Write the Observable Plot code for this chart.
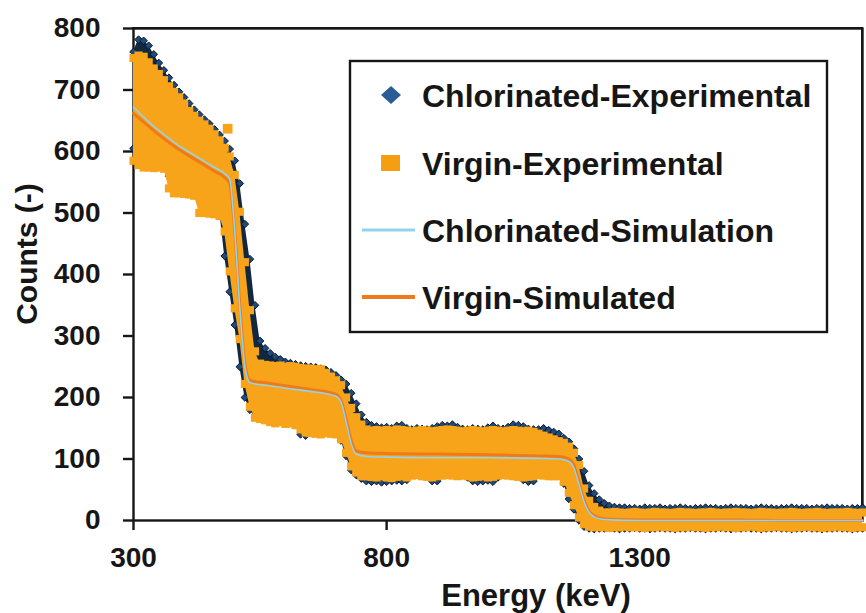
<!DOCTYPE html>
<html><head><meta charset="utf-8">
<script src="https://cdn.jsdelivr.net/npm/d3@7"></script>
<script src="https://cdn.jsdelivr.net/npm/@observablehq/plot@0.6"></script>
<style>
body{margin:0;background:#fff;}
#chart{position:relative;width:866px;height:613px;}
#border{position:absolute;box-sizing:border-box;border-top:2.4px solid #161616;border-right:2.4px solid #161616;pointer-events:none;}
</style></head><body><div id="chart"><div id="border"></div></div>
<script>
// Energy grid (keV) of the experimental spectra
const energy = [
 300,310,320,330,340,350,360,370,380,390,
 400,410,420,430,440,450,460,470,480,490,
 500,510,520,530,540,550,560,570,580,590,
 600,610,620,630,640,650,660,670,680,690,
 700,710,720,730,740,750,760,770,780,790,
 800,810,820,830,840,850,860,870,880,890,
 900,910,920,930,940,950,960,970,980,990,
 1000,1010,1020,1030,1040,1050,1060,1070,1080,1090,
 1100,1110,1120,1130,1140,1150,1160,1170,1180,1190,
 1200,1210,1220,1230,1240,1250,1260,1270,1280,1290,
 1300,1310,1320,1330,1340,1350,1360,1370,1380,1390,
 1400,1410,1420,1430,1440,1450,1460,1470,1480,1490,
 1500,1510,1520,1530,1540,1550,1560,1570,1580,1590,
 1600,1610,1620,1630,1640,1650,1660,1670,1680,1690,
 1700,1710,1720,1730,1740];

// Chlorinated-Experimental: upper / lower edge of the point cloud
const chlHi = [
 762,782,780,772,758,744,732,720,708,697,
 688,678,668,660,652,645,636,627,617,604,
 585,548,482,425,350,292,280,272,266,262,
 258,256,254,252,251,250,249,247,245,241,
 236,229,222,207,190,172,160,155,153,151,
 152,150,154,155,150,148,150,149,148,150,
 153,155,154,156,152,149,148,150,149,148,
 151,154,150,149,152,156,155,153,149,148,
 148,150,147,144,141,134,128,117,100,80,
 57,44,34,28,24,22,21,21,20,20,
 19,21,20,20,21,19,20,20,21,20,
 19,20,20,21,20,20,19,20,21,20,
 20,20,19,20,21,20,20,19,20,20,
 21,20,20,20,19,20,20,21,20,20,
 20,19,20,20,21];
const chlLo = [
 605,598,592,588,586,585,583,560,548,545,
 542,540,538,525,518,514,510,505,430,372,
 318,250,200,180,168,170,170,168,165,166,
 163,162,158,140,138,148,150,150,148,146,
 142,130,105,82,74,68,64,63,64,62,
 63,64,65,64,66,78,80,79,72,64,
 64,77,80,80,79,78,70,64,63,64,
 65,63,70,80,80,79,78,66,63,64,
 80,80,79,78,76,60,35,18,0,-10,
 -13,-14,-13,-13,-12,-13,-14,-13,-13,-12,
 -13,-13,-14,-13,-12,-13,-13,-14,-13,-13,
 -12,-13,-13,-14,-13,-13,-12,-13,-14,-13,
 -13,-12,-13,-13,-14,-13,-13,-12,-13,-13,
 -14,-13,-13,-12,-13,-13,-14,-13,-13,-12,
 -13,-13,-14,-13,-13];

// Virgin-Experimental: upper / lower edge of the point cloud
const virHi = [
 752,756,754,745,735,726,716,706,697,688,
 678,666,658,650,644,637,628,618,606,592,
 562,502,420,342,275,255,253,252,251,252,
 250,251,250,248,247,247,246,246,240,234,
 228,220,200,183,168,156,148,146,147,146,
 147,146,148,147,146,145,146,147,146,145,
 146,147,148,147,146,145,146,147,146,145,
 146,147,146,145,146,147,146,145,146,144,
 141,138,135,132,129,126,120,110,90,52,
 32,22,16,13,13,14,13,12,13,14,
 13,12,13,14,13,13,12,13,14,13,
 13,12,13,13,14,13,12,13,13,14,
 13,13,12,13,14,13,13,12,13,13,
 14,13,12,13,13,14,13,12,13,13,
 13,14,13,12,13];
const virLo = [
 585,578,574,574,573,574,572,540,532,532,
 531,530,528,500,500,499,498,495,470,405,
 345,295,222,185,167,165,163,160,158,160,
 157,158,155,148,143,142,141,140,142,141,
 140,132,110,88,78,72,72,71,70,72,
 70,69,71,72,70,73,74,72,71,70,
 72,73,74,73,72,73,72,70,71,72,
 70,71,73,74,73,72,71,70,71,72,
 74,73,72,72,72,63,45,25,5,-6,
 -10,-11,-11,-11,-12,-11,-11,-10,-11,-11,
 -11,-12,-11,-11,-10,-11,-11,-12,-11,-11,
 -10,-11,-11,-12,-11,-11,-10,-11,-11,-12,
 -11,-11,-10,-11,-12,-11,-11,-10,-11,-11,
 -12,-11,-11,-10,-11,-11,-12,-11,-11,-10,
 -11,-11,-12,-11,-11];
// isolated Virgin-Experimental point
const virOutE = [486];
const virOutC = [637];

// Simulations
const simEnergy = [300,320,340,360,380,400,420,440,460,480,490,500,510,520,530,540,560,600,650,700,710,720,730,740,760,800,900,1000,1100,1140,1160,1170,1180,1190,1200,1210,1220,1240,1300,1400,1500,1600,1740];
const virginSim = [662,648,634,621,609,598,588,578,568,558,548,470,350,255,228,226,224,219,213,205,195,165,130,113,110,109,108,107,105,104,100,90,62,33,15,8,4,2,1,1,1,0,0];
const chlorSim  = [672,656,641,628,615,604,594,584,574,564,555,470,345,250,224,222,220,215,210,202,192,160,125,108,104,103,102,102,101,100,96,85,58,30,13,6,3,1,0,0,0,0,0];

const xTicks = [300, 800, 1300];
const yTicks = [0,100,200,300,400,500,600,700,800];
const legendLabels = ["Chlorinated-Experimental","Virgin-Experimental","Chlorinated-Simulation","Virgin-Simulated"];

const rows = energy.map((e,i)=>({e, chlHi:chlHi[i], chlLo:chlLo[i], virHi:virHi[i], virLo:virLo[i]}));
const outl = virOutE.map((e,i)=>({e, c:virOutC[i]}));
const sim = simEnergy.map((e,i)=>({e, v:virginSim[i], c:chlorSim[i]}));

const navyFill="#11283f", navyDot="#1f4a7a", navyStroke="#07162a";
const orange="#f8a41a", simOrange="#f07a18", simBlue="#92d3ee";
const FONT = "'Liberation Sans', Arial, Helvetica, sans-serif";
const INK = "#161616";

const plot = Plot.plot({
  width: 866, height: 613,
  marginLeft: 133, marginRight: 4, marginTop: 28, marginBottom: 93,
  style: {fontFamily: FONT, fontWeight: "bold", color: INK},
  x: {domain: [300, 1740]},
  y: {domain: [0, 800]},
  marks: [
    Plot.axisY({ticks: yTicks, tickSize: 10, tickPadding: 23, fontSize: 28, label: null, strokeWidth: 2.4, tickFormat: d => String(d)}),
    Plot.axisX({ticks: xTicks, tickSize: 10, tickPadding: 17, fontSize: 28, label: null, strokeWidth: 2.4, tickFormat: d => String(d)}),
    Plot.frame({stroke: INK, strokeWidth: 2.4}),
    Plot.areaY(rows, {x: "e", y1: "chlLo", y2: "chlHi", fill: navyFill}),
    Plot.dot(rows, {x: "e", y: "chlHi", symbol: "diamond2", r: 3.4, fill: navyDot, stroke: navyStroke, strokeWidth: 1}),
    Plot.dot(rows, {x: "e", y: "chlLo", symbol: "diamond2", r: 3.4, fill: navyDot, stroke: navyStroke, strokeWidth: 1}),
    Plot.areaY(rows, {x: "e", y1: "virLo", y2: "virHi", fill: orange}),
    Plot.dot(rows, {x: "e", y: "virHi", symbol: "square", r: 4.6, fill: orange}),
    Plot.dot(rows, {x: "e", y: "virLo", symbol: "square", r: 4.6, fill: orange}),
    Plot.dot(outl, {x: "e", y: "c", symbol: "square", r: 5.5, fill: orange}),
    Plot.line(sim, {x: "e", y: "v", stroke: simOrange, strokeWidth: 3, curve: "monotone-x"}),
    Plot.line(sim, {x: "e", y: "c", stroke: simBlue, strokeWidth: 1.6, curve: "monotone-x"})
  ]
});
const chartDiv = document.getElementById("chart");
chartDiv.insertBefore(plot, chartDiv.firstChild);

// top and right edges of the plot-area box, placed from the scales
const sx = plot.scale("x"), sy = plot.scale("y");
const bx0 = sx.apply(300), bx1 = sx.apply(1740), by0 = sy.apply(800), by1 = sy.apply(24);
const bd = document.getElementById("border");
bd.style.left = (bx0 - 1.2) + "px";
bd.style.top = (by0 - 1.2) + "px";
bd.style.width = (bx1 - bx0 + 2.4) + "px";
bd.style.height = (by1 - by0 + 1.2) + "px";

const svg = d3.select(plot);

// axis titles
svg.append("text").attr("transform", "translate(37,254) rotate(-90)")
  .attr("text-anchor", "middle").attr("font-size", 30).attr("font-weight", "bold")
  .attr("font-family", FONT).attr("fill", INK).text("Counts (-)");
svg.append("text").attr("x", 536).attr("y", 606)
  .attr("text-anchor", "middle").attr("font-size", 31).attr("font-weight", "bold")
  .attr("font-family", FONT).attr("fill", INK).text("Energy (keV)");

// legend
const lg = svg.append("g").attr("text-anchor", "start");
lg.append("rect").attr("x", 350).attr("y", 61).attr("width", 477).attr("height", 271)
  .attr("fill", "#fff").attr("stroke", INK).attr("stroke-width", 2.4);
const rowY = [95, 163, 230, 297];
lg.append("path").attr("d", `M381,${rowY[0]}L391,${rowY[0]-9}L401,${rowY[0]}L391,${rowY[0]+9}Z`).attr("fill", "#2a5c96");
lg.append("rect").attr("x", 381).attr("y", rowY[1]-8).attr("width", 19).attr("height", 16).attr("fill", "#f59f10");
lg.append("line").attr("x1", 362).attr("x2", 415).attr("y1", rowY[2]).attr("y2", rowY[2]).attr("stroke", simBlue).attr("stroke-width", 3);
lg.append("line").attr("x1", 362).attr("x2", 415).attr("y1", rowY[3]).attr("y2", rowY[3]).attr("stroke", simOrange).attr("stroke-width", 4);
legendLabels.forEach((t, i) => {
  lg.append("text").attr("x", 422).attr("y", rowY[i]).attr("dy", "0.36em")
    .attr("text-anchor", "start")
    .attr("font-size", 32).attr("font-weight", "bold").attr("font-family", FONT)
    .attr("fill", INK).text(t);
});
</script></body></html>
